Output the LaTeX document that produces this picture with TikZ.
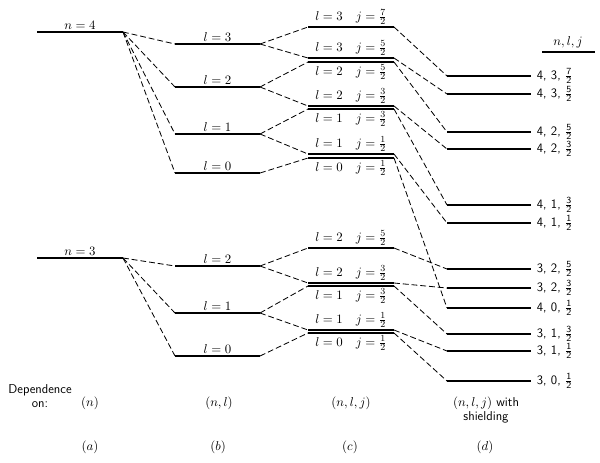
\documentclass[tikz,border=0pt]{standalone}
\usepackage{amsmath}
\newcommand{\hf}[1]{$\frac{\mathsf{#1}}{\mathsf{2}}$}

\begin{document}
\begin{tikzpicture}[x=0.03cm, y=-0.03cm,
    lvl/.style={line width=1.1pt},
    trans/.style={line width=0.7pt, dash pattern=on 5pt off 2.5pt},
    tag/.style={font=\fontsize{11}{13}\selectfont\sffamily},
    every node/.style={inner sep=1.5pt, font=\fontsize{11}{13}\selectfont}]

    \useasboundingbox (0,0) rectangle (600,462);

    % (a) dependence on n
    \coordinate (a4L) at (37,32);   \coordinate (a4R) at (123,32);
    \coordinate (a3L) at (37,258);  \coordinate (a3R) at (123,258);
    \draw[lvl] (a4L) -- (a4R) node[midway,above] (na4) {$n=4$};
    \draw[lvl] (a3L) -- (a3R) node[midway,above] (na3) {$n=3$};

    % (b) dependence on n,l
    \coordinate (b43L) at (175,44);  \coordinate (b43R) at (260,44);
    \coordinate (b42L) at (175,87);  \coordinate (b42R) at (260,87);
    \coordinate (b41L) at (175,134); \coordinate (b41R) at (260,134);
    \coordinate (b40L) at (175,173); \coordinate (b40R) at (260,173);
    \coordinate (b32L) at (175,266); \coordinate (b32R) at (260,266);
    \coordinate (b31L) at (175,313); \coordinate (b31R) at (260,313);
    \coordinate (b30L) at (175,356); \coordinate (b30R) at (260,356);
    \draw[lvl] (b43L) -- (b43R) node[midway,above] (nb43) {$l=3$};
    \draw[lvl] (b42L) -- (b42R) node[midway,above] (nb42) {$l=2$};
    \draw[lvl] (b41L) -- (b41R) node[midway,above] (nb41) {$l=1$};
    \draw[lvl] (b40L) -- (b40R) node[midway,above] (nb40) {$l=0$};
    \draw[lvl] (b32L) -- (b32R) node[midway,above] (nb32) {$l=2$};
    \draw[lvl] (b31L) -- (b31R) node[midway,above] (nb31) {$l=1$};
    \draw[lvl] (b30L) -- (b30R) node[midway,above] (nb30) {$l=0$};

    % (c) dependence on n,l,j
    \coordinate (c437L) at (308,27);  \coordinate (c437R) at (394,27);
    \coordinate (c435L) at (308,58);  \coordinate (c435R) at (394,58);
    \coordinate (c425L) at (308,62);  \coordinate (c425R) at (394,62);
    \coordinate (c423L) at (308,106); \coordinate (c423R) at (394,106);
    \coordinate (c413L) at (308,109); \coordinate (c413R) at (394,109);
    \coordinate (c411L) at (308,154); \coordinate (c411R) at (394,154);
    \coordinate (c401L) at (308,158); \coordinate (c401R) at (394,158);
    \coordinate (c325L) at (308,248); \coordinate (c325R) at (394,248);
    \coordinate (c323L) at (308,283); \coordinate (c323R) at (394,283);
    \coordinate (c313L) at (308,286); \coordinate (c313R) at (394,286);
    \coordinate (c311L) at (308,330); \coordinate (c311R) at (394,330);
    \coordinate (c301L) at (308,333); \coordinate (c301R) at (394,333);
    \draw[lvl] (c437L) -- (c437R) node[midway,above] (nc437) {$l=3\quad j=\frac{7}{2}$};
    \draw[lvl] (c435L) -- (c435R) node[midway,above] (nc435) {$l=3\quad j=\frac{5}{2}$};
    \draw[lvl] (c425L) -- (c425R) node[midway,below] (nc425) {$l=2\quad j=\frac{5}{2}$};
    \draw[lvl] (c423L) -- (c423R) node[midway,above] (nc423) {$l=2\quad j=\frac{3}{2}$};
    \draw[lvl] (c413L) -- (c413R) node[midway,below] (nc413) {$l=1\quad j=\frac{3}{2}$};
    \draw[lvl] (c411L) -- (c411R) node[midway,above] (nc411) {$l=1\quad j=\frac{1}{2}$};
    \draw[lvl] (c401L) -- (c401R) node[midway,below] (nc401) {$l=0\quad j=\frac{1}{2}$};
    \draw[lvl] (c325L) -- (c325R) node[midway,above] (nc325) {$l=2\quad j=\frac{5}{2}$};
    \draw[lvl] (c323L) -- (c323R) node[midway,above] (nc323) {$l=2\quad j=\frac{3}{2}$};
    \draw[lvl] (c313L) -- (c313R) node[midway,below] (nc313) {$l=1\quad j=\frac{3}{2}$};
    \draw[lvl] (c311L) -- (c311R) node[midway,above] (nc311) {$l=1\quad j=\frac{1}{2}$};
    \draw[lvl] (c301L) -- (c301R) node[midway,below] (nc301) {$l=0\quad j=\frac{1}{2}$};

    % (d) with shielding
    \coordinate (d437L) at (447,76);  \coordinate (d437R) at (531,76);
    \coordinate (d435L) at (447,94);  \coordinate (d435R) at (531,94);
    \coordinate (d425L) at (447,132); \coordinate (d425R) at (531,132);
    \coordinate (d423L) at (447,149); \coordinate (d423R) at (531,149);
    \coordinate (d413L) at (447,205); \coordinate (d413R) at (531,205);
    \coordinate (d411L) at (447,223); \coordinate (d411R) at (531,223);
    \coordinate (d325L) at (447,269); \coordinate (d325R) at (531,269);
    \coordinate (d323L) at (447,288); \coordinate (d323R) at (531,288);
    \coordinate (d401L) at (447,308); \coordinate (d401R) at (531,308);
    \coordinate (d313L) at (447,334); \coordinate (d313R) at (531,334);
    \coordinate (d311L) at (447,351); \coordinate (d311R) at (531,351);
    \coordinate (d301L) at (447,381); \coordinate (d301R) at (531,381);
    \draw[lvl] (d437L) -- (d437R) node[right=3pt,tag] (nd437) {4, 3, \hf{7}};
    \draw[lvl] (d435L) -- (d435R) node[right=3pt,tag] (nd435) {4, 3, \hf{5}};
    \draw[lvl] (d425L) -- (d425R) node[right=3pt,tag] (nd425) {4, 2, \hf{5}};
    \draw[lvl] (d423L) -- (d423R) node[right=3pt,tag] (nd423) {4, 2, \hf{3}};
    \draw[lvl] (d413L) -- (d413R) node[right=3pt,tag] (nd413) {4, 1, \hf{3}};
    \draw[lvl] (d411L) -- (d411R) node[right=3pt,tag] (nd411) {4, 1, \hf{1}};
    \draw[lvl] (d325L) -- (d325R) node[right=3pt,tag] (nd325) {3, 2, \hf{5}};
    \draw[lvl] (d323L) -- (d323R) node[right=3pt,tag] (nd323) {3, 2, \hf{3}};
    \draw[lvl] (d401L) -- (d401R) node[right=3pt,tag] (nd401) {4, 0, \hf{1}};
    \draw[lvl] (d313L) -- (d313R) node[right=3pt,tag] (nd313) {3, 1, \hf{3}};
    \draw[lvl] (d311L) -- (d311R) node[right=3pt,tag] (nd311) {3, 1, \hf{1}};
    \draw[lvl] (d301L) -- (d301R) node[right=3pt,tag] (nd301) {3, 0, \hf{1}};

    % header
    \node (hdr) at (568,42) {$n,l,j$};
    \coordinate (hdrL) at (542,52); \coordinate (hdrR) at (595,52);
    \draw[line width=0.9pt] (hdrL) -- (hdrR);

    % splittings a -> b
    \draw[trans] (a4R) -- (b43L);
    \draw[trans] (a4R) -- (b42L);
    \draw[trans] (a4R) -- (b41L);
    \draw[trans] (a4R) -- (b40L);
    \draw[trans] (a3R) -- (b32L);
    \draw[trans] (a3R) -- (b31L);
    \draw[trans] (a3R) -- (b30L);

    % splittings b -> c
    \draw[trans] (b43R) -- (c437L);
    \draw[trans] (b43R) -- (c435L);
    \draw[trans] (b42R) -- (c425L);
    \draw[trans] (b42R) -- (c423L);
    \draw[trans] (b41R) -- (c413L);
    \draw[trans] (b41R) -- (c411L);
    \draw[trans] (b40R) -- (c401L);
    \draw[trans] (b32R) -- (c325L);
    \draw[trans] (b32R) -- (c323L);
    \draw[trans] (b31R) -- (c313L);
    \draw[trans] (b31R) -- (c311L);
    \draw[trans] (b30R) -- (c301L);

    % shifts c -> d
    \draw[trans] (c437R) -- (d437L);
    \draw[trans] (c435R) -- (d435L);
    \draw[trans] (c425R) -- (d425L);
    \draw[trans] (c423R) -- (d423L);
    \draw[trans] (c413R) -- (d413L);
    \draw[trans] (c411R) -- (d411L);
    \draw[trans] (c401R) -- (d401L);
    \draw[trans] (c325R) -- (d325L);
    \draw[trans] (c323R) -- (d323L);
    \draw[trans] (c313R) -- (d313L);
    \draw[trans] (c311R) -- (d311L);
    \draw[trans] (c301R) -- (d301L);

    % bottom captions
    \node[tag, align=center] (dep) at (40,396) {Dependence\\[-1pt]on:};
    \node (depa) at (90,403) {$(n)$};
    \node (depb) at (219,403) {$(n,l)$};
    \node (depc) at (351,403) {$(n,l,j)$};
    \node[align=center] (depd) at (486,410) {$(n,l,j)$ \textsf{with}\\[-1pt]\textsf{shielding}};
    \node (capa) at (90,447) {$(a)$};
    \node (capb) at (218,447) {$(b)$};
    \node (capc) at (350,447) {$(c)$};
    \node (capd) at (485,447) {$(d)$};

\end{tikzpicture}
\end{document}
